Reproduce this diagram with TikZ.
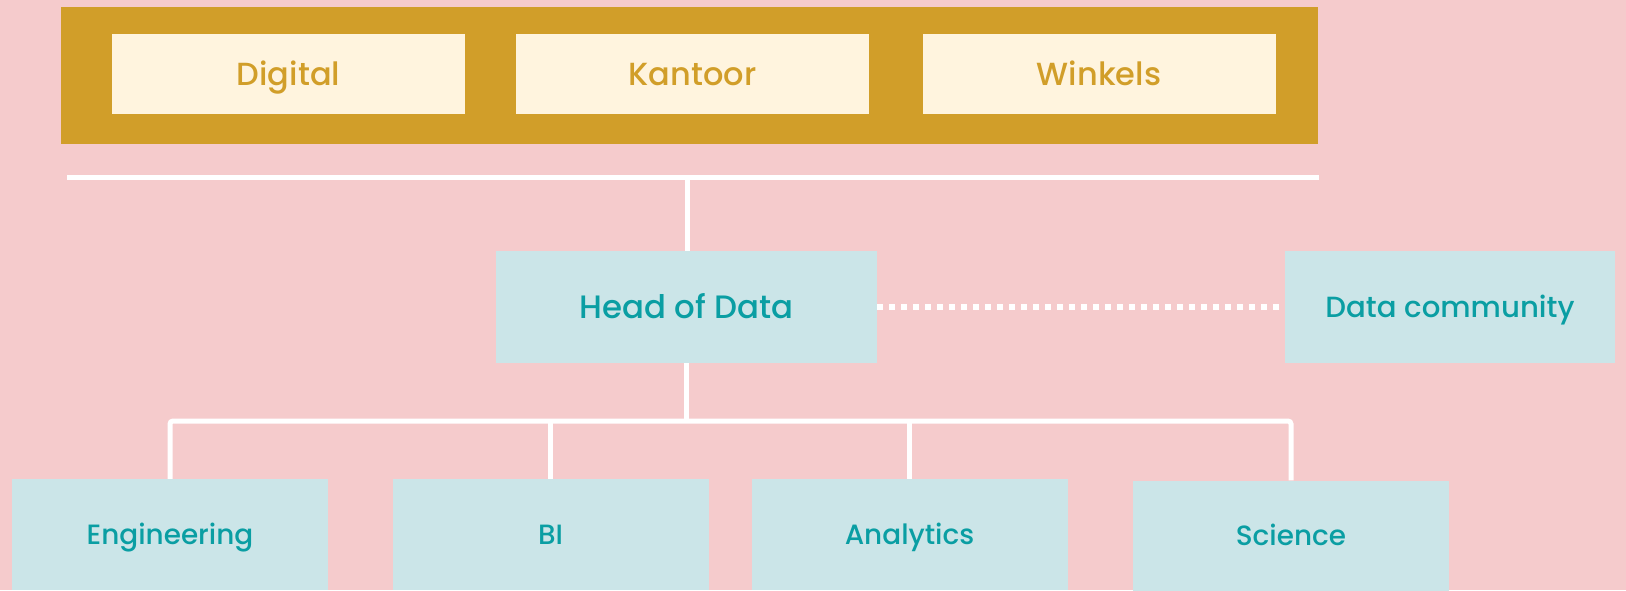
\documentclass[tikz,border=0pt]{standalone}
\usepackage{fontspec}
\setmainfont{Poppins Medium}
\usetikzlibrary{positioning}
\definecolor{blush}{RGB}{245, 203, 204}
\definecolor{mustard}{RGB}{209, 158, 41}
\definecolor{cream}{RGB}{255, 244, 222}
\definecolor{mistblue}{RGB}{203, 229, 232}
\definecolor{tealtext}{RGB}{10, 158, 163}
\tikzset{
  unitbox/.style={fill=cream, text=mustard, minimum width=353pt, minimum height=80pt, inner sep=0pt, text height=22.4pt, text depth=0pt, font=\fontsize{32}{34}\selectfont},
  teambox/.style={fill=mistblue, text=tealtext, minimum width=316pt, minimum height=111pt, inner sep=0pt, text height=19.5pt, text depth=0pt, font=\fontsize{27.9}{30}\selectfont},
  link/.style={white, line width=5pt},
}
\begin{document}
\begin{tikzpicture}[x=1pt, y=-1pt]
            \useasboundingbox (0,0) rectangle (1626,590);
            \clip (0,0) rectangle (1626,590);
            \fill[blush] (0,0) rectangle (1626,590);
            % business units
            \fill[mustard] (61,7) rectangle (1318,144);
            \node[unitbox] (digital) at (288.5,74) {Digital};
            \node[unitbox] (kantoor) at (692.5,74) {Kantoor};
            \node[unitbox] (winkels) at (1099,74) {Winkels};
            \coordinate (lineW) at (67,177);
            \coordinate (lineE) at (1319,177);
            \coordinate (lineM) at (687,177);
            \draw[link] (lineW) -- (lineE);
            % data organisation
            \node[teambox, minimum width=381pt, minimum height=112pt, text height=22.7pt, font=\fontsize{32.4}{34}\selectfont] (head) at (686.5,307) {Head of Data};
            \node[teambox, minimum width=330pt, minimum height=112pt, text height=20.4pt, font=\fontsize{29.2}{32}\selectfont] (community) at (1450,307) {Data community};
            \node[teambox] (eng) at (170,534.5) {Engineering};
            \node[teambox] (bi) at (550.5,534.5) {BI};
            \node[teambox] (ana) at (909.5,534.5) {Analytics};
            \node[teambox] (sci) at (1291,536) {Science};
            \draw[link] (lineM) -- (lineM |- head.north);
            \draw[link, line width=6pt, dash pattern=on 6pt off 6pt] (head.east) -- (community.west);
            \coordinate (bus) at (686.5,421);
            \draw[link] (head.south) -- (bus);
            \draw[link, rounded corners=3pt] (eng.north) |- (bus) -| (sci.north);
            \draw[link] (bi.north) -- (bi.north |- bus);
            \draw[link] (ana.north) -- (ana.north |- bus);
        \end{tikzpicture}
\end{document}
